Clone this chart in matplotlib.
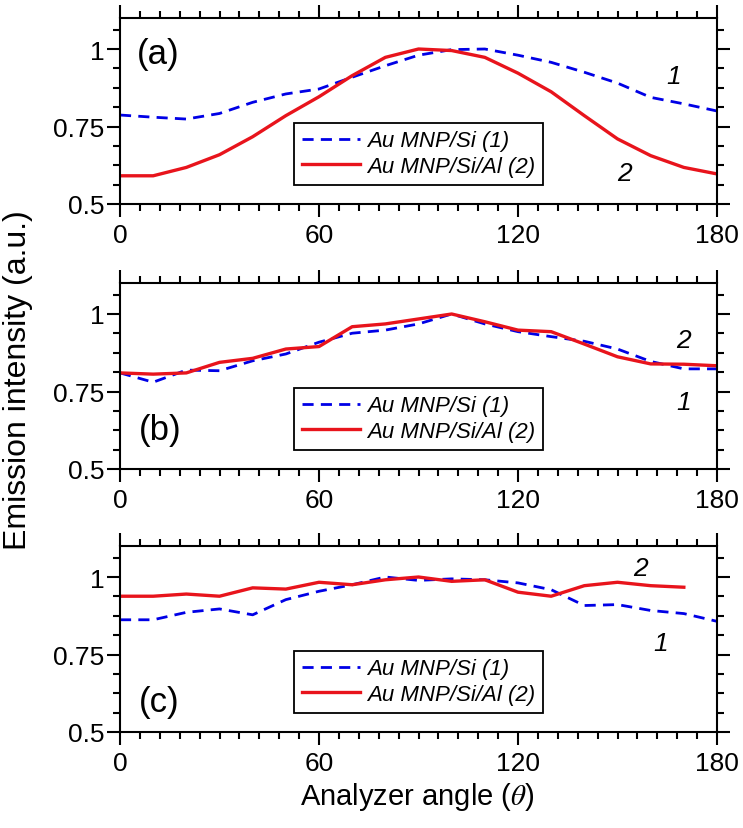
import numpy as np
import matplotlib
matplotlib.use('Agg')
import matplotlib.pyplot as plt
from matplotlib.ticker import MultipleLocator

plt.rcParams['font.family'] = ['Liberation Sans', 'DejaVu Sans']
plt.rcParams['mathtext.fontset'] = 'stix'

# analyzer angle, degrees
angle = np.arange(0, 190, 10)

# (a)
a_si = [0.787, 0.780, 0.774, 0.792, 0.828, 0.855, 0.871, 0.909, 0.946, 0.980,
        0.998, 1.000, 0.980, 0.957, 0.925, 0.890, 0.844, 0.823, 0.800]
a_al = [0.591, 0.591, 0.618, 0.659, 0.717, 0.785, 0.846, 0.914, 0.973, 1.000,
        0.995, 0.973, 0.922, 0.862, 0.785, 0.710, 0.656, 0.618, 0.597]
# (b)
b_si = [0.810, 0.780, 0.819, 0.817, 0.849, 0.871, 0.909, 0.938, 0.948, 0.968,
        1.000, 0.968, 0.943, 0.927, 0.912, 0.887, 0.847, 0.823, 0.823]
b_al = [0.810, 0.806, 0.810, 0.844, 0.857, 0.887, 0.895, 0.959, 0.968, 0.984,
        1.000, 0.975, 0.948, 0.943, 0.903, 0.862, 0.839, 0.838, 0.833]
# (c)  (red curve stops at 170)
c_si = [0.862, 0.862, 0.886, 0.897, 0.878, 0.927, 0.954, 0.975, 1.000, 0.989,
        0.994, 0.991, 0.981, 0.959, 0.908, 0.911, 0.892, 0.882, 0.857]
c_al = [0.938, 0.938, 0.945, 0.938, 0.965, 0.961, 0.983, 0.975, 0.991, 1.000,
        0.986, 0.991, 0.951, 0.938, 0.972, 0.983, 0.972, 0.967]

panels = ['(a)', '(b)', '(c)']
leg_labels = ['Au MNP/Si (1)', 'Au MNP/Si/Al (2)']
yticks = [0.5, 0.75, 1]
yticklabels = ['0.5', '0.75', '1']
xticks = [0, 60, 120, 180]

blue = '#0000e6'
red = '#e8141c'

fig = plt.figure(figsize=(7.43, 8.29), dpi=100)
W, H = 743, 829
boxes = [(19, 205), (284, 470), (547, 733)]
left, right = 120, 717

# where the curve labels and panel labels go
num_pos = [[(167, 0.914, '1'), (152, 0.599, '2')],
           [(170, 0.916, '2'), (170, 0.715, '1')],
           [(157, 1.029, '2'), (163, 0.787, '1')]]
tag_pos = [(0.064, 0.81), (0.068, 0.215), (0.066, 0.165)]

data = [(a_si, a_al), (b_si, b_al), (c_si, c_al)]

for i, (top, bot) in enumerate(boxes):
    ax = fig.add_axes([left / W, 1 - bot / H, (right - left) / W, (bot - top) / H])
    s1, s2 = data[i]
    ax.plot(angle[:len(s1)], s1, color=blue, lw=2.0, dashes=(4, 2.6), label=leg_labels[0])
    ax.plot(angle[:len(s2)], s2, color=red, lw=2.4, label=leg_labels[1])

    ax.set_xlim(0, 180)
    ax.set_ylim(0.5, 1.1)
    ax.set_xticks(xticks)
    ax.xaxis.set_minor_locator(MultipleLocator(6))
    ax.set_yticks(yticks)
    ax.set_yticklabels(yticklabels)
    ax.yaxis.set_minor_locator(MultipleLocator(0.0625))
    ax.tick_params(which='both', direction='out', top=True, right=True,
                   width=1.5, labelsize=19, color='black')
    ax.tick_params(which='major', length=9.4)
    ax.tick_params(which='minor', length=5)
    ax.tick_params(axis='y', pad=2)
    ax.tick_params(axis='x', pad=4)
    for sp in ax.spines.values():
        sp.set_linewidth(1.5)

    for x, y, t in num_pos[i]:
        ax.text(x, y, t, fontsize=19, style='italic', ha='center', va='center')
    ax.text(tag_pos[i][0], tag_pos[i][1], panels[i], transform=ax.transAxes,
            fontsize=25, ha='center', va='center')

    leg = ax.legend(loc='center', bbox_to_anchor=(0.5, 0.27), fancybox=False,
                    edgecolor='black', framealpha=1, handlelength=2.6,
                    handletextpad=0.3, borderpad=0.35, labelspacing=0.22,
                    prop={'size': 16, 'style': 'italic'})
    leg.get_frame().set_linewidth(1.3)

fig.text(0.024, 1 - 380 / H, 'Emission intensity (a.u.)', rotation=90,
         ha='center', va='center', fontsize=23)
fig.text(417 / W, 1 - 797 / H, r'Analyzer angle ($\theta$)', ha='center',
         va='center', fontsize=21)

fig.savefig('out.png', dpi=100)
